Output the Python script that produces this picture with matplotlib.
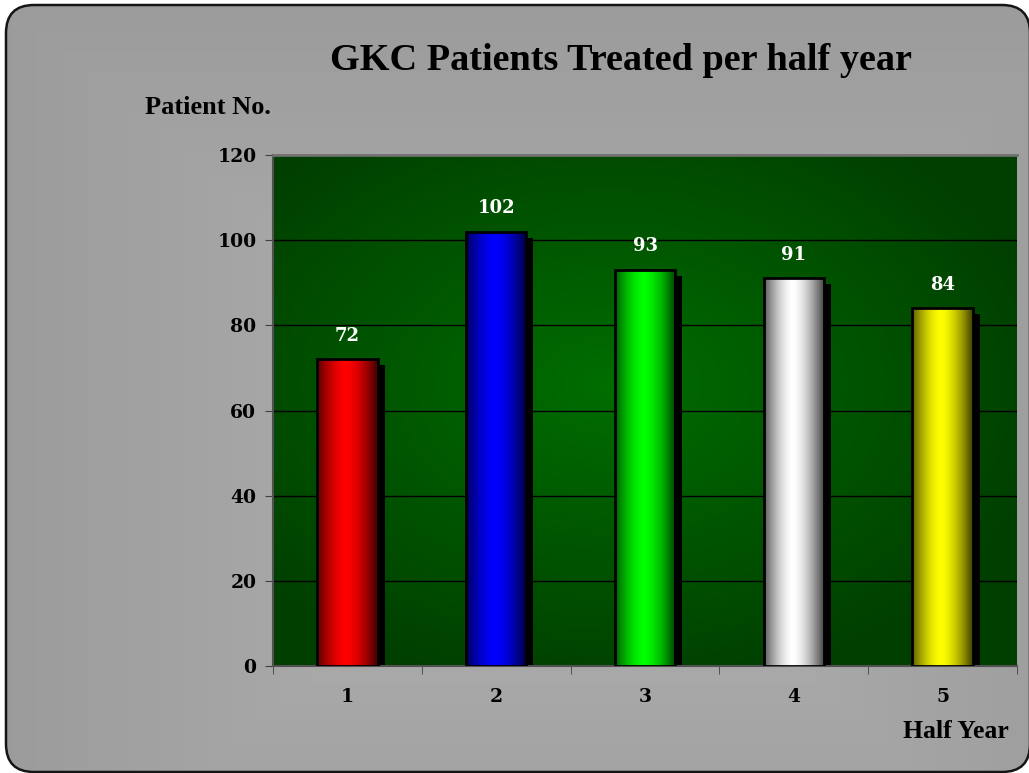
import numpy as np
import matplotlib
matplotlib.use("Agg")
import matplotlib.pyplot as plt
from matplotlib.patches import FancyBboxPatch, Rectangle
from matplotlib.colors import to_rgb

categories = ["1", "2", "3", "4", "5"]
values = [72, 102, 93, 91, 84]
bar_colors = ["#ff0000", "#0000ff", "#00ff00", "#ffffff", "#ffff00"]
yticks = [0, 20, 40, 60, 80, 100, 120]

W, H = 1029, 773
fig = plt.figure(figsize=(W / 100, H / 100), dpi=100)
fig.patch.set_facecolor("white")

# background rounded panel
bg = fig.add_axes([0, 0, 1, 1])
bg.set_xlim(0, W)
bg.set_ylim(H, 0)
bg.axis("off")
yy, xx = np.mgrid[0:H:4, 0:W:4]
d = np.maximum(np.abs(xx - 560) / 560, np.abs(yy - 470) / 470)
g = 0.70 - 0.09 * np.clip(d, 0, 1)
img = np.dstack([g, g, g])
im = bg.imshow(img, extent=(0, W, H, 0), interpolation="bilinear", zorder=0)
panel = FancyBboxPatch((6, 5), 1024, 767, boxstyle="round,pad=0,rounding_size=28",
                       facecolor="none", edgecolor="#151515", linewidth=1.8, zorder=2)
bg.add_patch(panel)
im.set_clip_path(panel)

# main axes
x0, x1, ytop, ybot = 273, 1017, 155, 666
ax = fig.add_axes([x0 / W, 1 - ybot / H, (x1 - x0) / W, (ybot - ytop) / H])
ax.set_xlim(0.5, 5.5)
ax.set_ylim(0, 120)

# green gradient plot area
gy, gx = np.mgrid[0:1:200j, 0:1:300j]
r = np.sqrt(((gx - 0.45) / 0.6) ** 2 + ((gy - 0.45) / 0.6) ** 2)
t = np.clip(1 - r, 0, 1)
green = 0.25 + 0.18 * t
area = np.dstack([np.zeros_like(green), green, np.zeros_like(green)])
ax.imshow(area, extent=(0.5, 5.5, 0, 120), aspect="auto", zorder=0, interpolation="bilinear")

for yv in yticks[1:-1]:
    ax.axhline(yv, color="black", linewidth=1.0, zorder=1)

bw = 0.405
xs = np.arange(1, len(values) + 1)
dx = 7 * 5 / (x1 - x0)
dy = 6 * 120 / (ybot - ytop)
tf = dict(fontweight="bold", family="DejaVu Serif")
for x, v, c in zip(xs, values, bar_colors):
    # shadow
    ax.add_patch(Rectangle((x - bw / 2 + dx, 0), bw, v - dy, facecolor="black",
                           edgecolor="none", zorder=2))
    rgb = np.array(to_rgb(c))
    u = np.linspace(-1, 1, 120)
    shade = 0.3 + 0.7 * np.clip(1 - np.abs(u + 0.05) ** 1.6, 0, 1)
    grad = np.clip(rgb[None, :] * shade[:, None], 0, 1)[None, :, :]
    gim = ax.imshow(grad, extent=(x - bw / 2, x + bw / 2, 0, v), aspect="auto",
                    zorder=3, interpolation="bilinear")
    outline = Rectangle((x - bw / 2, 0), bw, v, facecolor="none", edgecolor="black",
                        linewidth=2, zorder=4)
    ax.add_patch(outline)
    gim.set_clip_path(outline)
    ax.text(x, v + 3.4, str(v), ha="center", va="bottom", color="white",
            fontsize=13, zorder=5, **tf)

ax.set_xlim(0.5, 5.5)
ax.set_ylim(0, 120)
ax.set_yticks(yticks)
ax.set_yticklabels([str(y) for y in yticks], fontsize=13.5, **tf)
ax.set_xticks(xs)
ax.set_xticklabels(categories, fontsize=13.5, **tf)
ax.set_xticks(np.arange(0.5, 6.0, 1.0), minor=True)
ax.tick_params(axis="x", which="major", length=0, pad=16)
ax.tick_params(axis="x", which="minor", length=6, color="#404040", direction="out")
ax.tick_params(axis="y", length=6, color="#404040", direction="out", pad=6)
for s in ["top", "right"]:
    ax.spines[s].set_visible(False)
ax.spines["left"].set_color("#505050")
ax.spines["bottom"].set_color("#505050")
ax.spines["left"].set_linewidth(1.5)
ax.spines["bottom"].set_linewidth(1.5)
ax.axhline(120, color="#707070", linewidth=2, zorder=6, clip_on=False)

fig.text(621 / W, 1 - 60 / H, "GKC Patients Treated per half year", ha="center", va="center",
         fontsize=27.5, fontweight="bold", family="Liberation Serif")
fig.text(208 / W, 1 - 107 / H, "Patient No.", ha="center", va="center",
         fontsize=19, fontweight="bold", family="Liberation Serif")
fig.text(956 / W, 1 - 731 / H, "Half Year", ha="center", va="center",
         fontsize=18.5, fontweight="bold", family="Liberation Serif")

fig.savefig("out.png", dpi=100, facecolor="white")
